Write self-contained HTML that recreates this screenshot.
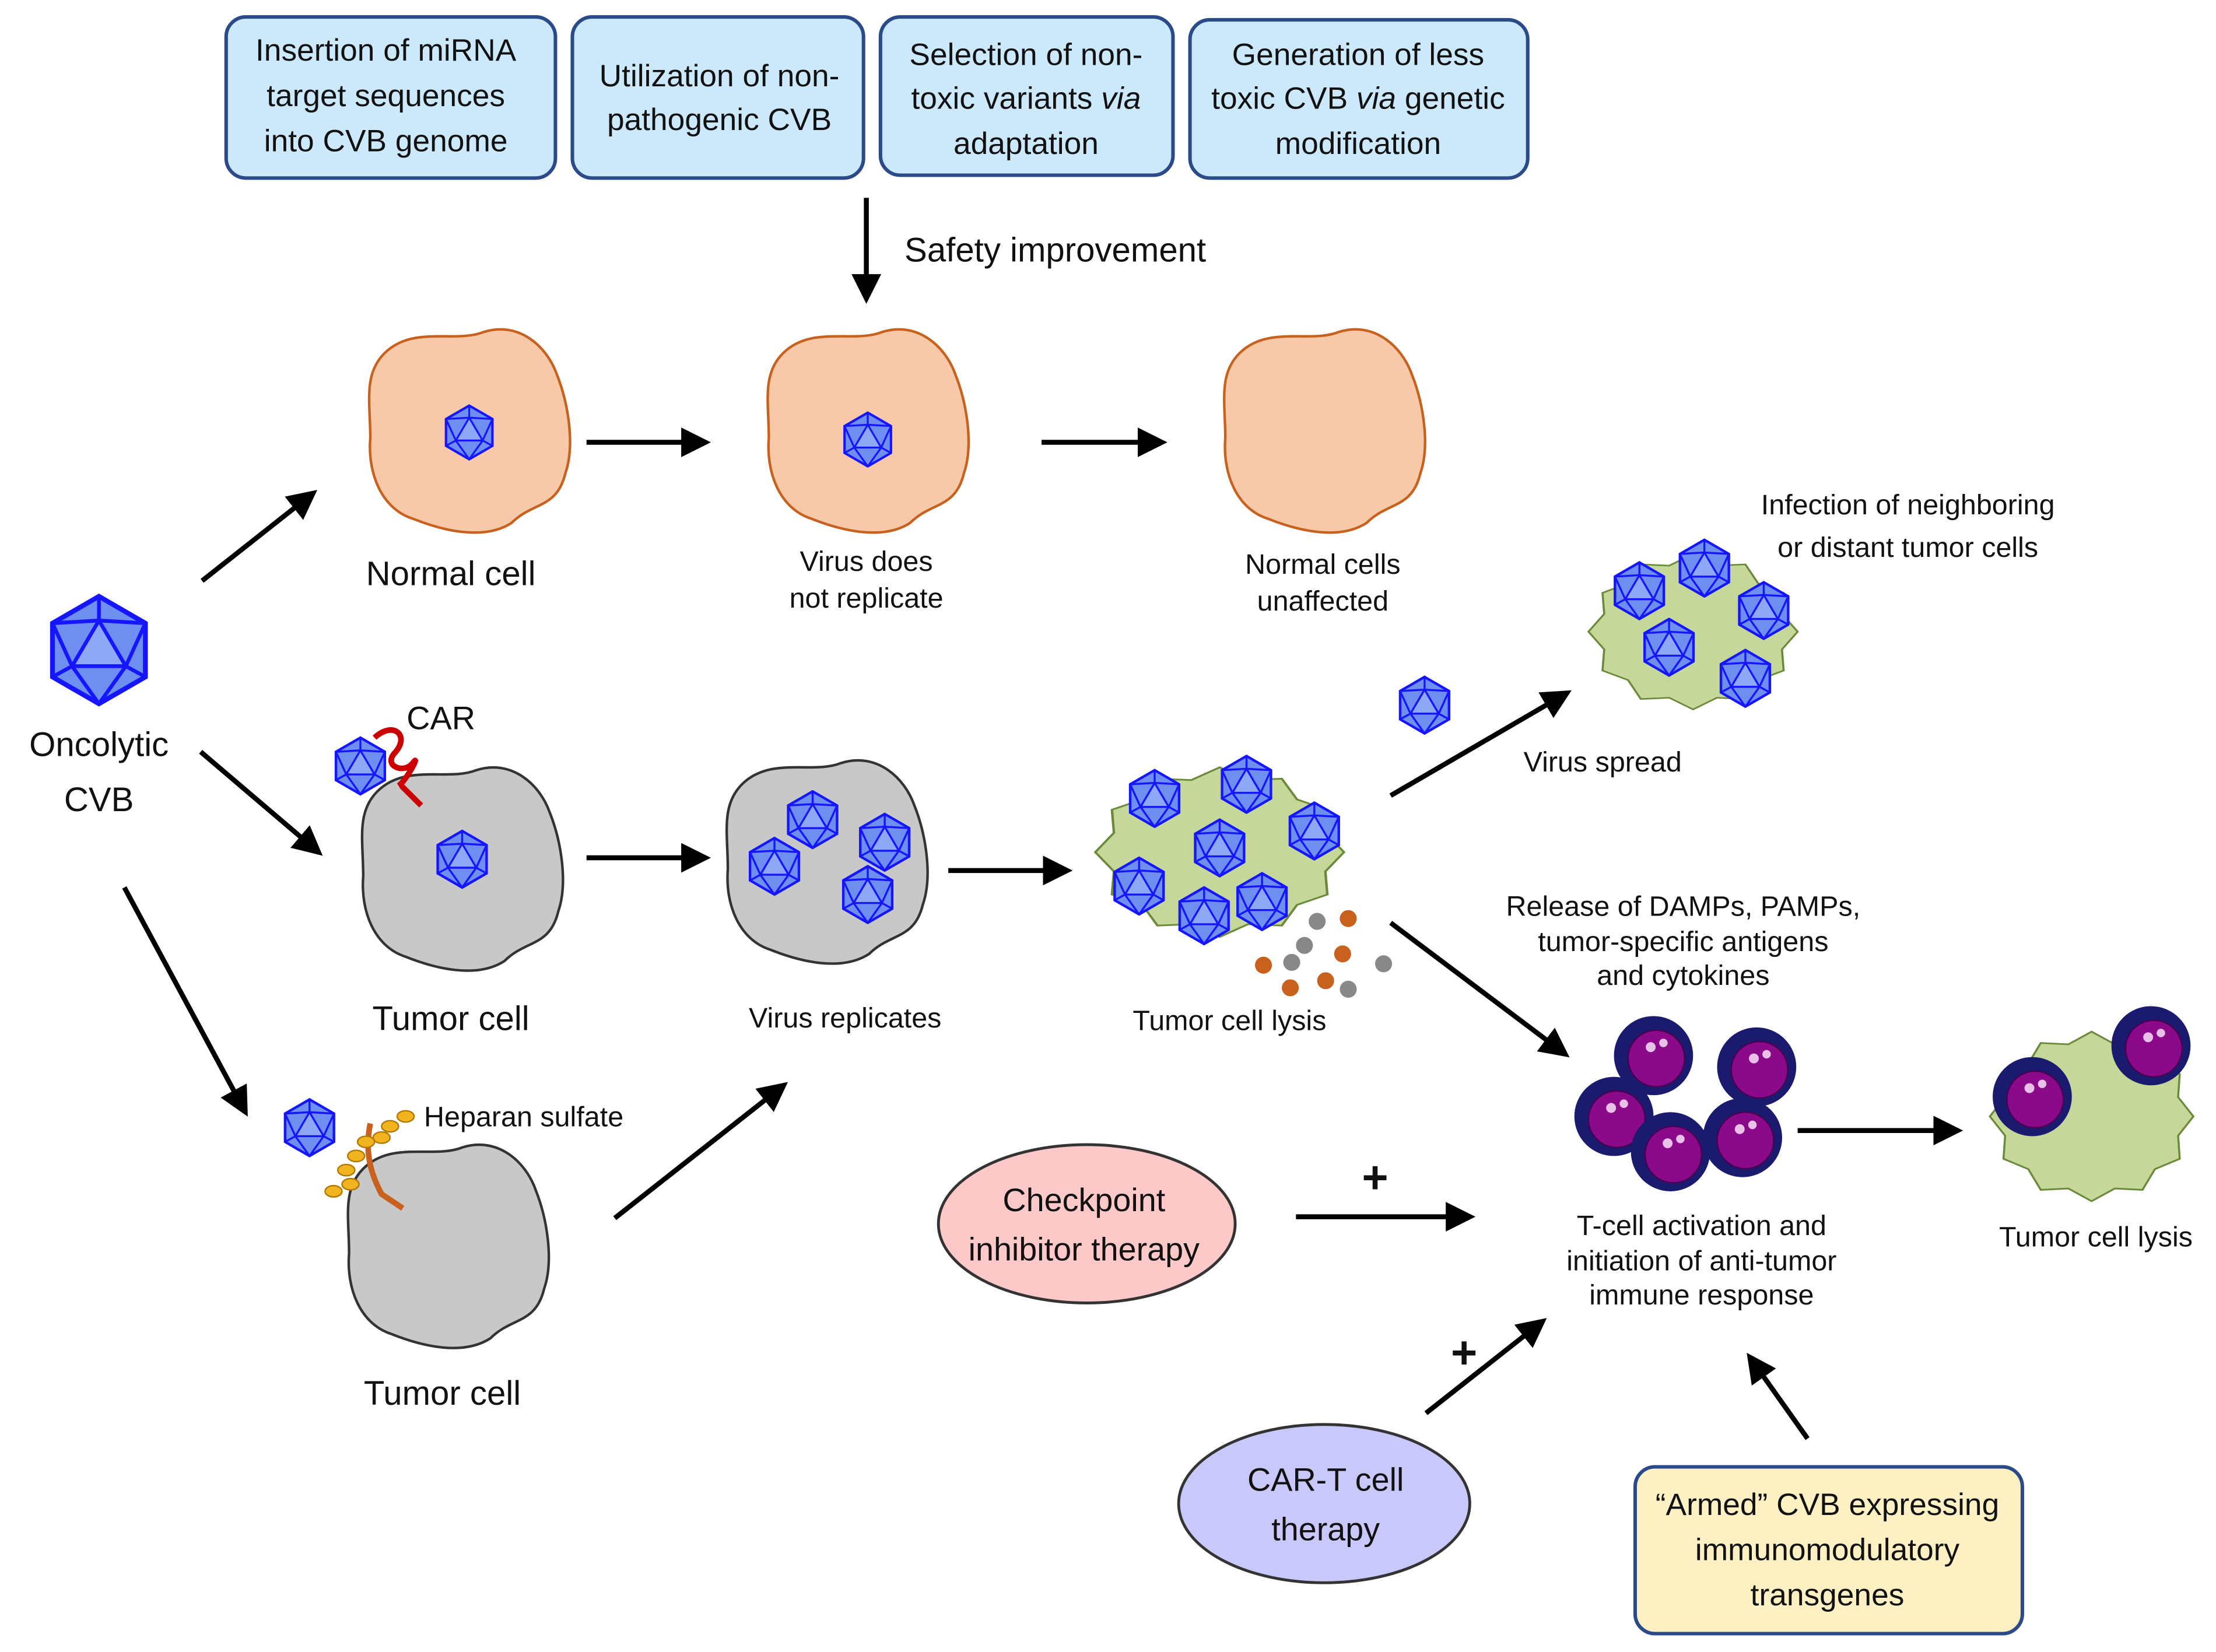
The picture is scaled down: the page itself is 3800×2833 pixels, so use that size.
<!DOCTYPE html>
<html><head><meta charset="utf-8"><style>
html,body{margin:0;padding:0;background:#fff}
svg{display:block}
text{font-family:"Liberation Sans","DejaVu Sans",sans-serif;fill:#111}
</style></head><body>
<svg width="3800" height="2833" viewBox="0 0 1568 1169" xmlns="http://www.w3.org/2000/svg">
<defs>
<marker id="ah" markerWidth="6" markerHeight="6" refX="4" refY="3" orient="auto" markerUnits="strokeWidth">
<path d="M0,0 L6,3 L0,6 Z" fill="#000"/></marker>
<g id="vir">
<polygon points="0,-20 17.3,-10 17.3,10 0,20 -17.3,10 -17.3,-10" fill="#6f8ff0" stroke="#1515ff" stroke-width="1.8"/>
<polygon points="0,-11 10,6 -10,6" fill="#8fa8f5" stroke="#1515ff" stroke-width="1.4"/>
<path d="M0,-20 L0,-11 M17.3,-10 L0,-11 M17.3,-10 L10,6 M17.3,10 L10,6 M0,20 L10,6 M0,20 L-10,6 M-17.3,10 L-10,6 M-17.3,-10 L-10,6 M-17.3,-10 L0,-11" stroke="#1515ff" stroke-width="1.4" fill="none"/>
</g>
<path id="blob" d="M-60,-55 C-40,-75 -10,-62 10,-70 C35,-78 55,-60 62,-40 C70,-20 75,10 68,30 C62,55 45,50 30,65 C10,78 -20,70 -40,62 C-62,55 -72,30 -70,5 C-70,-20 -75,-40 -60,-55Z"/>
<polygon id="spk" points="1,0 .85,.228 .866,.5 .622,.622 .5,.866 .228,.85 0,1 -.228,.85 -.5,.866 -.622,.622 -.866,.5 -.85,.228 -1,0 -.85,-.228 -.866,-.5 -.622,-.622 -.5,-.866 -.228,-.85 0,-1 .228,-.85 .5,-.866 .622,-.622 .866,-.5 .85,-.228"/>
<g id="tc"><circle r="28" fill="#1a1a6e"/><circle cx="2" cy="2" r="20" fill="#8a0a8a" stroke="#4a0050" stroke-width="1"/><circle cx="-2" cy="-6" r="3.5" fill="#e8c0e8"/><circle cx="7" cy="-9" r="3" fill="#e8c0e8"/></g>
</defs>

<g stroke="#2a4a8a" stroke-width="2.5" fill="#cce9fb">
<rect x="160" y="12" width="233" height="114" rx="14"/>
<rect x="405" y="12" width="206" height="114" rx="14"/>
<rect x="623" y="12" width="207" height="112" rx="14"/>
<rect x="842" y="14" width="239" height="112" rx="14"/>
</g>
<g font-size="22" text-anchor="middle">
<text x="273" y="43">Insertion of miRNA</text><text x="273" y="75">target sequences</text><text x="273" y="107">into CVB genome</text>
<text x="509" y="61">Utilization of non-</text><text x="509" y="92">pathogenic CVB</text>
<text x="726" y="46">Selection of non-</text><text x="726" y="77">toxic variants <tspan font-style="italic">via</tspan></text><text x="726" y="109">adaptation</text>
<text x="961" y="46">Generation of less</text><text x="961" y="77">toxic CVB <tspan font-style="italic">via</tspan> genetic</text><text x="961" y="109">modification</text>
</g>

<!-- green spiky cells (drawn before arrows) -->
<g fill="#c5d89a" stroke="#6a8a3a" stroke-width="0.02">
<use href="#spk" transform="translate(863,603) scale(88,60)"/>
<use href="#spk" transform="translate(1198,447) scale(74,55)"/>
<use href="#spk" transform="translate(1480,790) scale(72,60)"/>
</g>

<g stroke="#000" stroke-width="3.5" fill="none" marker-end="url(#ah)">
<line x1="613" y1="140" x2="613" y2="208"/>
<line x1="415" y1="313" x2="496" y2="313"/>
<line x1="737" y1="313" x2="819" y2="313"/>
<line x1="143" y1="411" x2="219" y2="351"/>
<line x1="142" y1="532" x2="223" y2="601"/>
<line x1="88" y1="628" x2="172" y2="784"/>
<line x1="415" y1="607" x2="496" y2="607"/>
<line x1="671" y1="616" x2="752" y2="616"/>
<line x1="984" y1="563" x2="1106" y2="492"/>
<line x1="984" y1="653" x2="1105" y2="744"/>
<line x1="1272" y1="800" x2="1382" y2="800"/>
<line x1="435" y1="862" x2="552" y2="770"/>
<line x1="917" y1="861" x2="1037" y2="861"/>
<line x1="1009" y1="1000" x2="1089" y2="937"/>
<line x1="1279" y1="1018" x2="1240" y2="963"/>
</g>
<text x="640" y="185" font-size="24">Safety improvement</text>

<g fill="#f7c9a8" stroke="#c8601e" stroke-width="1.8">
<use href="#blob" transform="translate(332,305)"/>
<use href="#blob" transform="translate(614,305)"/>
<use href="#blob" transform="translate(937,305)"/>
</g>
<use href="#vir" transform="translate(332,306) scale(.95)"/>
<use href="#vir" transform="translate(614,311) scale(.95)"/>
<text x="319" y="414" font-size="24" text-anchor="middle">Normal cell</text>
<g font-size="20" text-anchor="middle">
<text x="613" y="404">Virus does</text><text x="613" y="430">not replicate</text>
<text x="936" y="406">Normal cells</text><text x="936" y="432">unaffected</text>
</g>

<use href="#vir" transform="translate(70,460) scale(1.9)"/>
<text x="70" y="535" font-size="24" text-anchor="middle">Oncolytic</text>
<text x="70" y="574" font-size="24" text-anchor="middle">CVB</text>

<g fill="#c8c8c8" stroke="#333" stroke-width="1.8">
<use href="#blob" transform="translate(327,615)"/>
<use href="#blob" transform="translate(585,610)"/>
<use href="#blob" transform="translate(317,882)"/>
</g>
<use href="#vir" transform="translate(327,608)"/>
<path d="M265,522 C278,510 290,520 280,532 C270,542 286,548 292,540 C298,532 288,552 282,556 M284,556 L298,570" stroke="#c00" stroke-width="4" fill="none"/>
<use href="#vir" transform="translate(255,542)"/>
<text x="312" y="516" font-size="23" text-anchor="middle">CAR</text>
<text x="319" y="729" font-size="24" text-anchor="middle">Tumor cell</text>
<use href="#vir" transform="translate(575,580)"/>
<use href="#vir" transform="translate(626,596)"/>
<use href="#vir" transform="translate(548,613)"/>
<use href="#vir" transform="translate(614,633)"/>
<text x="598" y="727" font-size="20" text-anchor="middle">Virus replicates</text>

<use href="#vir" transform="translate(219,798)"/>
<path d="M262,795 C258,815 262,830 270,845 L285,855" stroke="#c8601e" stroke-width="4" fill="none"/>
<g fill="#f2b41e" stroke="#b07800" stroke-width="1">
<ellipse cx="287" cy="790" rx="6" ry="4"/><ellipse cx="276" cy="797" rx="6" ry="4"/><ellipse cx="270" cy="805" rx="6" ry="4"/>
<ellipse cx="259" cy="808" rx="6" ry="4"/><ellipse cx="252" cy="818" rx="6" ry="4"/><ellipse cx="245" cy="828" rx="6" ry="4"/><ellipse cx="236" cy="843" rx="6" ry="4"/><ellipse cx="248" cy="838" rx="6" ry="4"/>
</g>
<text x="300" y="797" font-size="20">Heparan sulfate</text>
<text x="313" y="994" font-size="24" text-anchor="middle">Tumor cell</text>

<use href="#vir" transform="translate(817,565)"/>
<use href="#vir" transform="translate(882,555)"/>
<use href="#vir" transform="translate(930,588)"/>
<use href="#vir" transform="translate(863,600)"/>
<use href="#vir" transform="translate(806,627)"/>
<use href="#vir" transform="translate(893,638)"/>
<use href="#vir" transform="translate(852,648)"/>
<g fill="#c8601e"><circle cx="954" cy="650" r="6"/><circle cx="950" cy="675" r="6"/><circle cx="894" cy="683" r="6"/><circle cx="913" cy="699" r="6"/><circle cx="938" cy="694" r="6"/></g>
<g fill="#888"><circle cx="932" cy="652" r="6"/><circle cx="923" cy="669" r="6"/><circle cx="914" cy="681" r="6"/><circle cx="979" cy="682" r="6"/><circle cx="954" cy="700" r="6"/></g>
<text x="870" y="729" font-size="20" text-anchor="middle">Tumor cell lysis</text>

<use href="#vir" transform="translate(1008,499)"/>
<use href="#vir" transform="translate(1160,418)"/>
<use href="#vir" transform="translate(1206,402)"/>
<use href="#vir" transform="translate(1248,432)"/>
<use href="#vir" transform="translate(1181,458)"/>
<use href="#vir" transform="translate(1235,480)"/>
<text x="1134" y="546" font-size="20" text-anchor="middle">Virus spread</text>
<text x="1350" y="364" font-size="20" text-anchor="middle">Infection of neighboring</text>
<text x="1350" y="394" font-size="20" text-anchor="middle">or distant tumor cells</text>

<g font-size="20" text-anchor="middle">
<text x="1191" y="648">Release of DAMPs, PAMPs,</text><text x="1191" y="673">tumor-specific antigens</text><text x="1191" y="697">and cytokines</text>
<text x="1204" y="874">T-cell activation and</text><text x="1204" y="899">initiation of anti-tumor</text><text x="1204" y="923">immune response</text>
<text x="1483" y="882">Tumor cell lysis</text>
</g>
<use href="#tc" transform="translate(1170,747)"/>
<use href="#tc" transform="translate(1243,755)"/>
<use href="#tc" transform="translate(1142,790)"/>
<use href="#tc" transform="translate(1233,805)"/>
<use href="#tc" transform="translate(1182,815)"/>
<use href="#tc" transform="translate(1438,776)"/>
<use href="#tc" transform="translate(1522,740)"/>

<ellipse cx="769" cy="866" rx="105" ry="56" fill="#fcc8c8" stroke="#333" stroke-width="2"/>
<text x="767" y="857" font-size="23" text-anchor="middle">Checkpoint</text>
<text x="767" y="892" font-size="23" text-anchor="middle">inhibitor therapy</text>
<text x="973" y="844" font-size="32" font-weight="bold" text-anchor="middle">+</text>
<ellipse cx="937" cy="1064" rx="103" ry="56" fill="#c8c8fa" stroke="#333" stroke-width="2"/>
<text x="938" y="1055" font-size="23" text-anchor="middle">CAR-T cell</text>
<text x="938" y="1090" font-size="23" text-anchor="middle">therapy</text>
<text x="1036" y="968" font-size="32" font-weight="bold" text-anchor="middle">+</text>
<rect x="1157" y="1038" width="274" height="118" rx="14" fill="#fdf0c2" stroke="#2a4a8a" stroke-width="2.5"/>
<g font-size="22" text-anchor="middle">
<text x="1293" y="1072">“Armed” CVB expressing</text><text x="1293" y="1104">immunomodulatory</text><text x="1293" y="1136">transgenes</text>
</g>
</svg>
</body></html>
